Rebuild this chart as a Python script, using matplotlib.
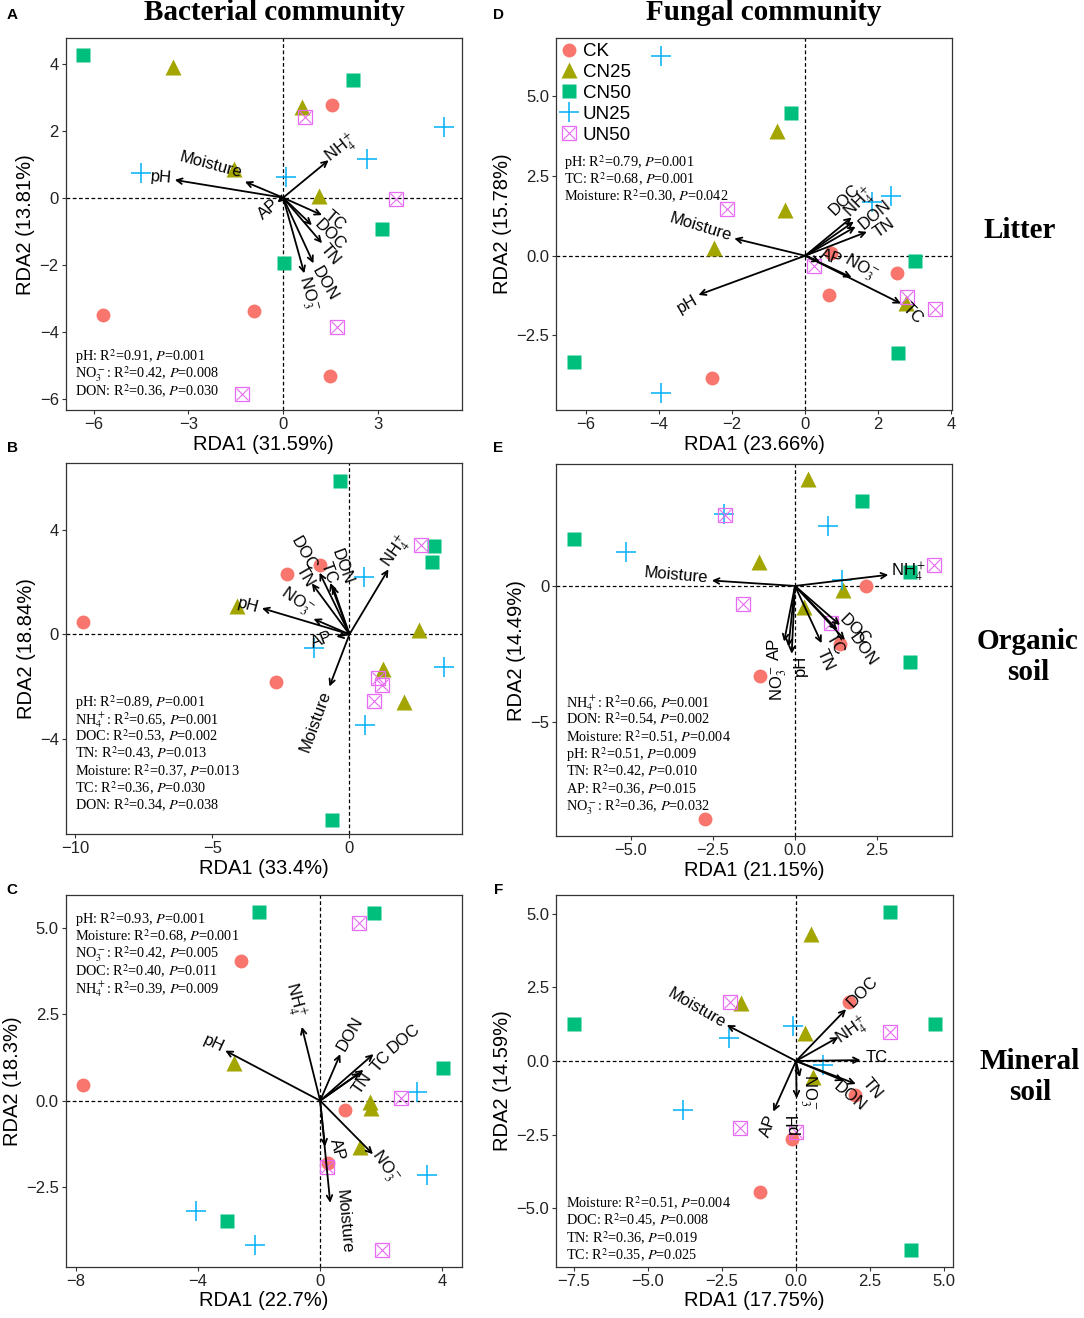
import matplotlib.pyplot as plt
from matplotlib.lines import Line2D
from matplotlib.ticker import FuncFormatter

plt.rcParams['font.family'] = ['Liberation Sans', 'DejaVu Sans']
plt.rcParams['mathtext.fontset'] = 'stix'

GROUPS = ["CK", "CN25", "CN50", "UN25", "UN50"]
COLORS = ["#F8766D", "#A3A500", "#00BF7D", "#00B0F6", "#E76BF3"]

NH4 = "NH$_4^+$"
NO3 = "NO$_3^-$"

# ---- A: bacteria, litter
A_CK = [(1.54, 2.76), (-5.70, -3.50), (-0.92, -3.37), (1.49, -5.32)]
A_CN25 = [(-3.47, 3.90), (0.59, 2.70), (-1.54, 0.85), (1.12, 0.05)]
A_CN50 = [(-6.34, 4.25), (2.20, 3.50), (3.13, -0.93), (0.03, -1.96)]
A_UN25 = [(5.09, 2.12), (2.66, 1.16), (0.10, 0.63), (-4.49, 0.75)]
A_UN50 = [(0.70, 2.40), (3.58, -0.05), (1.69, -3.87), (-1.31, -5.86)]
A_VARS = ["pH", "Moisture", NH4, "AP", "TC", "DOC", "TN", "DON", NO3]
A_VX = [-3.43, -1.21, 1.44, -0.18, 1.23, 0.91, 1.23, 0.96, 0.67]
A_VY = [0.53, 0.48, 1.12, -0.14, -0.52, -0.82, -1.36, -1.96, -2.26]
A_STATS = ["pH: R$^2$=0.91, $P$=0.001",
           NO3 + ": R$^2$=0.42, $P$=0.008",
           "DON: R$^2$=0.36, $P$=0.030"]

# ---- D: fungi, litter
D_CK = [(0.70, 0.07), (2.50, -0.53), (0.66, -1.22), (-2.55, -3.84)]
D_CN25 = [(-0.78, 3.92), (-0.56, 1.43), (-2.49, 0.23), (2.76, -1.47)]
D_CN50 = [(-0.40, 4.49), (3.00, -0.16), (2.55, -3.04), (-6.32, -3.32)]
D_UN25 = [(-3.95, 6.27), (2.34, 1.87), (1.84, 1.68), (-3.95, -4.32)]
D_UN50 = [(-2.13, 1.45), (0.24, -0.31), (2.78, -1.31), (3.55, -1.68)]
D_VARS = ["Moisture", "pH", "DOC", NH4, "DON", "TN", "AP", NO3, "TC"]
D_VX = [-1.94, -2.92, 1.27, 1.33, 1.38, 1.69, 0.40, 1.27, 2.62]
D_VY = [0.54, -1.23, 1.20, 1.07, 0.91, 0.75, -0.19, -0.68, -1.50]
D_STATS = ["pH: R$^2$=0.79, $P$=0.001",
           "TC: R$^2$=0.68, $P$=0.001",
           "Moisture: R$^2$=0.30, $P$=0.042"]

# ---- B: bacteria, organic soil
B_CK = [(-9.70, 0.49), (-2.28, 2.32), (-1.09, 2.66), (-2.67, -1.81)]
B_CN25 = [(-4.08, 1.10), (2.55, 0.17), (1.24, -1.33), (1.99, -2.58)]
B_CN50 = [(-0.34, 5.87), (3.09, 3.40), (3.00, 2.76), (-0.62, -7.10)]
B_UN25 = [(0.53, 2.20), (-1.31, -0.54), (3.43, -1.24), (0.57, -3.47)]
B_UN50 = [(2.60, 3.42), (1.03, -1.69), (1.20, -1.94), (0.90, -2.54)]
B_VARS = ["pH", NO3, "AP", "TN", "DOC", "TC", "DON", NH4, "Moisture"]
B_VX = [-3.19, -1.31, -0.48, -1.37, -1.09, -0.70, -0.61, 1.42, -0.73]
B_VY = [1.00, 0.59, -0.09, 1.95, 2.36, 1.97, 1.85, 2.49, -2.00]
B_STATS = ["pH: R$^2$=0.89, $P$=0.001",
           NH4 + ": R$^2$=0.65, $P$=0.001",
           "DOC: R$^2$=0.53, $P$=0.002",
           "TN: R$^2$=0.43, $P$=0.013",
           "Moisture: R$^2$=0.37, $P$=0.013",
           "TC: R$^2$=0.36, $P$=0.030",
           "DON: R$^2$=0.34, $P$=0.038"]

# ---- E: fungi, organic soil
E_CK = [(2.17, -0.02), (1.36, -2.14), (-1.05, -3.32), (-2.75, -8.60)]
E_CN25 = [(0.40, 3.94), (-1.09, 0.90), (1.47, -0.15), (0.26, -0.76)]
E_CN50 = [(2.05, 3.11), (-6.72, 1.73), (3.49, 0.53), (3.49, -2.79)]
E_UN25 = [(1.00, 2.21), (-2.15, 2.64), (-5.15, 1.24), (1.44, 0.22)]
E_UN50 = [(-2.13, 2.62), (4.24, 0.77), (-1.58, -0.68), (1.09, -1.38)]
E_VARS = ["Moisture", NH4, "DOC", "TC", "DON", "TN", "pH", NO3, "AP"]
E_VX = [-2.53, 2.84, 1.37, 1.29, 1.52, 0.81, -0.10, -0.20, -0.33]
E_VY = [0.20, 0.41, -1.44, -1.62, -1.99, -2.11, -2.50, -2.24, -2.05]
E_STATS = [NH4 + ": R$^2$=0.66, $P$=0.001",
           "DON: R$^2$=0.54, $P$=0.002",
           "Moisture: R$^2$=0.51, $P$=0.004",
           "pH: R$^2$=0.51, $P$=0.009",
           "TN: R$^2$=0.42, $P$=0.010",
           "AP: R$^2$=0.36, $P$=0.015",
           NO3 + ": R$^2$=0.36, $P$=0.032"]

# ---- C: bacteria, mineral soil
C_CK = [(-2.60, 4.04), (-7.76, 0.46), (0.82, -0.27), (0.25, -1.80)]
C_CN25 = [(-2.81, 1.08), (1.64, -0.05), (1.66, -0.22), (1.31, -1.33)]
C_CN50 = [(-2.02, 5.48), (1.75, 5.43), (4.04, 0.94), (-3.06, -3.48)]
C_UN25 = [(3.19, 0.26), (3.50, -2.15), (-4.07, -3.19), (-2.13, -4.18)]
C_UN50 = [(1.26, 5.16), (2.64, 0.07), (0.22, -1.93), (2.02, -4.33)]
C_VARS = ["pH", NH4, "DON", "DOC", "TC", "TN", "AP", NO3, "Moisture"]
C_VX = [-3.11, -0.60, 0.66, 1.75, 1.42, 1.31, 0.16, 1.73, 0.33]
C_VY = [1.45, 2.14, 1.35, 1.35, 0.89, 0.81, -1.33, -1.55, -2.96]
C_STATS = ["pH: R$^2$=0.93, $P$=0.001",
           "Moisture: R$^2$=0.68, $P$=0.001",
           NO3 + ": R$^2$=0.42, $P$=0.005",
           "DOC: R$^2$=0.40, $P$=0.011",
           NH4 + ": R$^2$=0.39, $P$=0.009"]

# ---- F: fungi, mineral soil
F_CK = [(1.79, 1.99), (1.98, -1.16), (-0.14, -2.66), (-1.23, -4.46)]
F_CN25 = [(0.51, 4.30), (-1.87, 1.98), (0.31, 0.96), (0.56, -0.53)]
F_CN50 = [(3.16, 5.06), (-7.50, 1.26), (4.70, 1.26), (3.87, -6.42)]
F_UN25 = [(-0.10, 1.20), (-2.25, 0.77), (0.92, -0.14), (-3.82, -1.66)]
F_UN50 = [(-2.22, 2.02), (3.16, 0.99), (-1.89, -2.29), (0.00, -2.40)]
F_VARS = ["Moisture", "DOC", NH4, "TC", "TN", "DON", NO3, "pH", "AP"]
F_VX = [-2.34, 1.69, 1.43, 2.18, 2.02, 1.60, 0.13, 0.02, -0.77]
F_VY = [1.22, 1.76, 0.81, 0.03, -0.78, -0.67, -0.55, -1.27, -1.72]
F_STATS = ["Moisture: R$^2$=0.51, $P$=0.004",
           "DOC: R$^2$=0.45, $P$=0.008",
           "TN: R$^2$=0.36, $P$=0.019",
           "TC: R$^2$=0.35, $P$=0.025"]

# label placement for arrow names (x, y, rotation) - layout only
A_LAB = [(-3.85, 0.60, -5), (-2.30, 0.98, -15), (1.85, 1.45, 38), (-0.45, -0.35, 40),
         (1.65, -0.68, -40), (1.49, -1.11, -45), (1.49, -1.71, -50), (1.33, -2.56, -60),
         (0.78, -2.86, -75)]
D_LAB = [(-2.87, 0.91, -17), (-3.23, -1.52, 30), (1.07, 1.75, 45), (1.50, 1.66, 45),
         (1.90, 1.28, 40), (2.16, 0.86, 35), (0.70, -0.05, -20), (1.53, -0.40, -30),
         (2.93, -1.81, -45)]
B_LAB = [(-3.68, 1.12, -15), (-1.92, 1.25, -35), (-1.00, -0.22, 20), (-1.61, 2.21, -60),
         (-1.68, 3.10, -60), (-0.77, 2.34, -70), (-0.28, 2.59, -70), (1.73, 3.16, 55),
         (-1.25, -3.35, 70)]
E_LAB = [(-3.63, 0.38, -5), (3.46, 0.50, 0), (1.83, -1.62, -45), (1.22, -2.16, -60),
         (2.08, -2.36, -55), (0.92, -2.73, -65), (0.17, -2.91, 90), (-0.50, -3.59, 90),
         (-0.61, -2.30, 90)]
C_LAB = [(-3.50, 1.66, -25), (-0.87, 2.92, -75), (0.98, 1.95, 60), (2.73, 1.81, 40),
         (2.02, 1.13, 50), (1.37, 0.50, 55), (0.55, -1.43, -75), (2.13, -1.91, -55),
         (0.77, -3.51, -85)]
F_LAB = [(-3.37, 1.79, -30), (2.26, 2.35, 45), (1.93, 1.00, 35), (2.72, 0.12, 0),
         (2.56, -0.93, -50), (1.82, -1.21, -40), (0.41, -1.04, -90), (-0.09, -2.12, 90),
         (-0.94, -2.21, 70)]

W, H = 1084, 1318
fig = plt.figure(figsize=(W / 100, H / 100), dpi=100)


def fmt(dec):
    return FuncFormatter(lambda v, _: f"{v:.{dec}f}".replace("-", "\u2212"))


def panel(box, xlim, ylim, xt, yt, xdec, ydec, xlab, ylab):
    l, t, r, b = box
    ax = fig.add_axes([l / W, 1 - b / H, (r - l) / W, (b - t) / H])
    ax.set_xlim(xlim)
    ax.set_ylim(ylim)
    ax.set_xticks(xt)
    ax.set_yticks(yt)
    ax.xaxis.set_major_formatter(fmt(xdec))
    ax.yaxis.set_major_formatter(fmt(ydec))
    ax.tick_params(length=3, width=0.8, color="#333333", labelsize=12,
                   labelcolor="#222222", pad=2)
    for s in ax.spines.values():
        s.set_color("#333333")
        s.set_linewidth(0.9)
    ax.axhline(0, ls=(0, (3, 2)), color="black", lw=0.9, zorder=1)
    ax.axvline(0, ls=(0, (3, 2)), color="black", lw=0.9, zorder=1)
    ax.set_xlabel(xlab, fontsize=14.5, labelpad=2)
    ax.set_ylabel(ylab, fontsize=14.5, labelpad=3)
    return ax


def draw_points(ax, groups):
    for pts, col, g in zip(groups, COLORS, GROUPS):
        xs = [p[0] for p in pts]
        ys = [p[1] for p in pts]
        if g == "CK":
            ax.plot(xs, ys, "o", ms=10, color=col, mec="none", zorder=2)
        elif g == "CN25":
            ax.plot(xs, ys, "^", ms=11.5, color=col, mec="none", zorder=2)
        elif g == "CN50":
            ax.plot(xs, ys, "s", ms=9.5, color=col, mec="none", zorder=2)
        elif g == "UN25":
            ax.plot(xs, ys, "+", ms=14.5, color=col, mew=1.1, zorder=2)
        else:
            ax.plot(xs, ys, "s", ms=9.5, mfc="none", mec=col, mew=0.9, zorder=2)
            ax.plot(xs, ys, "x", ms=8.5, color=col, mew=0.8, zorder=2)


def draw_arrows(ax, names, vx, vy, labs):
    for n, x, y, (lx, ly, rot) in zip(names, vx, vy, labs):
        ax.annotate("", xy=(x, y), xytext=(0, 0),
                    arrowprops=dict(arrowstyle="->", lw=1.3, color="black",
                                    mutation_scale=10, shrinkA=0, shrinkB=0),
                    zorder=3)
        ax.text(lx, ly, n, rotation=rot, ha="center", va="center", fontsize=12,
                rotation_mode="anchor", zorder=4)


def draw_stats(ax, lines, x0, y0):
    for i, s in enumerate(lines):
        ax.text(x0, y0 - i * 0.0466, s, transform=ax.transAxes, fontsize=10.3,
                family="Liberation Serif", ha="left", va="center_baseline", zorder=5)


axA = panel((65.7, 38.3, 461.7, 410), (-6.88, 5.65), (-6.34, 4.76),
            [-6, -3, 0, 3], [-6, -4, -2, 0, 2, 4], 0, 0,
            "RDA1 (31.59%)", "RDA2 (13.81%)")
draw_points(axA, [A_CK, A_CN25, A_CN50, A_UN25, A_UN50])
draw_arrows(axA, A_VARS, A_VX, A_VY, A_LAB)
draw_stats(axA, A_STATS, 0.023, 0.150)

axD = panel((556.3, 38.3, 952.1, 410), (-6.81, 4.02), (-4.84, 6.82),
            [-6, -4, -2, 0, 2, 4], [-2.5, 0, 2.5, 5], 0, 1,
            "RDA1 (23.66%)", "RDA2 (15.78%)")
draw_points(axD, [D_CK, D_CN25, D_CN50, D_UN25, D_UN50])
draw_arrows(axD, D_VARS, D_VX, D_VY, D_LAB)
draw_stats(axD, D_STATS, 0.019, 0.672)

axB = panel((65.7, 463.3, 461.7, 834.3), (-10.34, 4.09), (-7.66, 6.55),
            [-10, -5, 0], [-4, 0, 4], 0, 0,
            "RDA1 (33.4%)", "RDA2 (18.84%)")
draw_points(axB, [B_CK, B_CN25, B_CN50, B_UN25, B_UN50])
draw_arrows(axB, B_VARS, B_VX, B_VY, B_LAB)
draw_stats(axB, B_STATS, 0.023, 0.362)

axE = panel((556.3, 464.3, 952.1, 836), (-7.26, 4.78), (-9.21, 4.48),
            [-5, -2.5, 0, 2.5], [-5, 0], 1, 0,
            "RDA1 (21.15%)", "RDA2 (14.49%)")
draw_points(axE, [E_CK, E_CN25, E_CN50, E_UN25, E_UN50])
draw_arrows(axE, E_VARS, E_VX, E_VY, E_LAB)
draw_stats(axE, E_STATS, 0.024, 0.365)

axC = panel((65.7, 895, 461.7, 1266.7), (-8.34, 4.64), (-4.81, 5.96),
            [-8, -4, 0, 4], [-2.5, 0, 2.5, 5], 0, 1,
            "RDA1 (22.7%)", "RDA2 (18.3%)")
draw_points(axC, [C_CK, C_CN25, C_CN50, C_UN25, C_UN50])
draw_arrows(axC, C_VARS, C_VX, C_VY, C_LAB)
draw_stats(axC, C_STATS, 0.023, 0.941)

axF = panel((556.3, 895, 952.9, 1266.7), (-8.1, 5.3), (-6.99, 5.64),
            [-7.5, -5, -2.5, 0, 2.5, 5], [-5, -2.5, 0, 2.5, 5], 1, 1,
            "RDA1 (17.75%)", "RDA2 (14.59%)")
draw_points(axF, [F_CK, F_CN25, F_CN50, F_UN25, F_UN50])
draw_arrows(axF, F_VARS, F_VX, F_VY, F_LAB)
draw_stats(axF, F_STATS, 0.024, 0.176)

# legend in panel D
handles = [
    Line2D([], [], ls="none", marker="o", ms=10, color=COLORS[0], mec="none"),
    Line2D([], [], ls="none", marker="^", ms=11.5, color=COLORS[1], mec="none"),
    Line2D([], [], ls="none", marker="s", ms=9.5, color=COLORS[2], mec="none"),
    Line2D([], [], ls="none", marker="+", ms=14.5, color=COLORS[3], mew=1.1),
    (Line2D([], [], ls="none", marker="s", ms=9.5, mfc="none", mec=COLORS[4], mew=0.9),
     Line2D([], [], ls="none", marker="x", ms=8.5, color=COLORS[4], mew=0.8)),
]
axD.legend(handles, GROUPS, loc="upper left", frameon=False, fontsize=13.5,
           handlelength=0.9, handletextpad=0.25, labelspacing=0.2,
           borderpad=0.1, borderaxespad=0.15)

# titles, row labels and panel letters
serif_bold = dict(family="Liberation Serif", fontweight="bold", fontsize=21)
fig.text(274 / W, 1 - 13 / H, "Bacterial community", ha="center", va="center", **serif_bold)
fig.text(764 / W, 1 - 13 / H, "Fungal community", ha="center", va="center", **serif_bold)
fig.text(1020 / W, 1 - 230 / H, "Litter", ha="center", va="center", **serif_bold)
fig.text(1028 / W, 1 - 657 / H, "Organic\nsoil", ha="center", va="center",
         linespacing=1.2, **serif_bold)
fig.text(1030 / W, 1 - 1077 / H, "Mineral\nsoil", ha="center", va="center",
         linespacing=1.2, **serif_bold)

for letter, px, py in [("A", 12, 15), ("B", 12, 448), ("C", 12, 890),
                       ("D", 499, 15), ("E", 498, 448), ("F", 499, 890)]:
    fig.text(px / W, 1 - py / H, letter, ha="center", va="center",
             fontsize=11, fontweight="bold")

fig.savefig("out.png", dpi=100)
